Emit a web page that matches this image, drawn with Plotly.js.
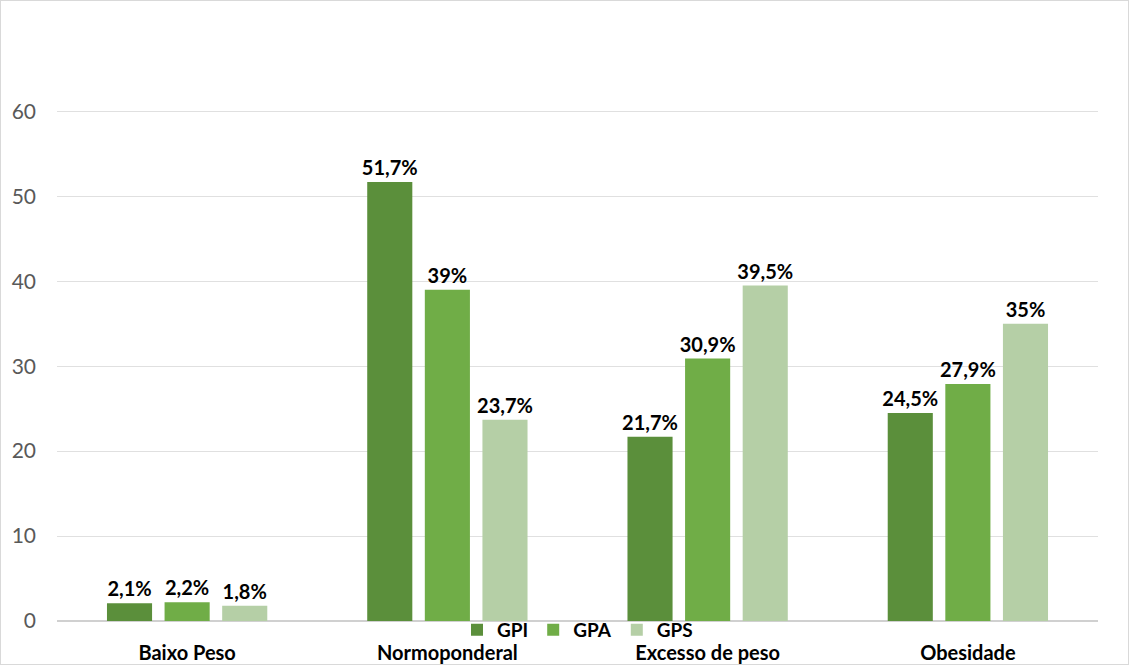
<!DOCTYPE html>
<html>
<head>
<meta charset="utf-8">
<script src="https://cdn.plot.ly/plotly-3.0.1.min.js"></script>
<style>
html,body{margin:0;padding:0;background:#fff;}
#wrap{position:relative;width:1129px;height:665px;}
#chart{width:1129px;height:665px;}
#frame{position:absolute;left:0;top:0;width:1127px;height:663px;border:1px solid #d9d9d9;pointer-events:none;}
</style>
</head>
<body>
<div id="wrap"><div id="chart"></div><div id="frame"></div></div>
<script>
const categories = ["Baixo Peso", "Normoponderal", "Excesso de peso", "Obesidade"];
const seriesNames = ["GPI", "GPA", "GPS"];
const gpi = [2.1, 51.7, 21.7, 24.5];
const gpa = [2.2, 39, 30.9, 27.9];
const gps = [1.8, 23.7, 39.5, 35];
const yTicks = [0, 10, 20, 30, 40, 50, 60];
const colors = ["#5b8f3b", "#70ad47", "#b5cfa6"];

const fmt = v => String(v).replace('.', ',') + '%';
const FONT = "Lato, 'Open Sans', sans-serif";

const traces = [gpi, gpa, gps].map((vals, i) => ({
  type: 'bar',
  name: seriesNames[i],
  x: categories,
  y: vals,
  marker: {color: colors[i]},
  text: vals.map(fmt),
  textposition: 'outside',
  constraintext: 'none',
  cliponaxis: false,
  textfont: {family: FONT, size: 20, color: '#000000', weight: 'bold'},
  hoverinfo: 'x+y'
}));

const layout = {
  width: 1129, height: 665,
  margin: {l: 57, r: 31, t: 35, b: 44},
  paper_bgcolor: '#ffffff', plot_bgcolor: '#ffffff',
  barmode: 'group',
  bargap: 0.336,
  bargroupgap: 0.217,
  font: {family: FONT, color: '#000'},
  xaxis: {
    showline: false, zeroline: false, showgrid: false, ticks: '',
    tickfont: {family: FONT, size: 20, color: '#000', weight: 'bold'},
    ticklabelstandoff: 18
  },
  yaxis: {
    range: [0, 69],
    tickvals: yTicks,
    ticktext: yTicks.map(String),
    showgrid: true, gridcolor: '#e0e0e0', gridwidth: 1,
    zeroline: true, zerolinecolor: '#d0d0d0', zerolinewidth: 1.5,
    showline: false, ticks: '',
    tickfont: {family: FONT, size: 21, color: '#595959'},
    ticklabelstandoff: 20
  },
  legend: {
    orientation: 'h', x: 0.5, xanchor: 'center', y: -0.015, yanchor: 'middle',
    font: {family: FONT, size: 19, color: '#000', weight: 'bold'},
    bgcolor: 'rgba(0,0,0,0)', itemwidth: 30, tracegroupgap: 0
  },
  showlegend: true
};

Plotly.newPlot('chart', traces, layout, {displayModeBar: false, staticPlot: true});
</script>
</body>
</html>
